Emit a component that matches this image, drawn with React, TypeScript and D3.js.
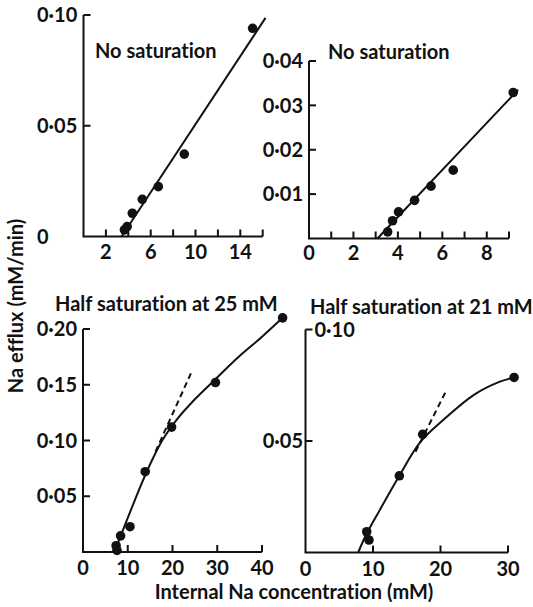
import React from "react";
import * as d3 from "d3";

// ---- Top left: no saturation ----
const aConc = [3.65, 3.9, 4.36, 5.25, 6.68, 9.0, 15.1];
const aEfflux = [0.003, 0.0045, 0.0105, 0.0168, 0.0225, 0.0372, 0.094];
const aFitConc = [3.4, 16.25];
const aFitEfflux = [0, 0.0987];
const aXTicks = [2, 4, 6, 8, 10, 12, 14, 16];
const aXLabels = [2, 6, 10, 14];
const aYTicks = [0.05, 0.1];
const aYLabels = [0, 0.05, 0.1];

// ---- Top right: no saturation ----
const bConc = [3.54, 3.76, 4.03, 4.75, 5.49, 6.49, 9.19];
const bEfflux = [0.0015, 0.004, 0.006, 0.0086, 0.0118, 0.0154, 0.0329];
const bFitConc = [3.08, 9.41];
const bFitEfflux = [0, 0.0335];
const bXTicks = [1, 2, 3, 4, 5, 6, 7, 8, 9];
const bXLabels = [0, 2, 4, 6, 8];
const bYTicks = [0.01, 0.02, 0.03, 0.04];
const bYLabels = [0.01, 0.02, 0.03, 0.04];

// ---- Bottom left: half saturation at 25 mM ----
const cConc = [7.4, 7.6, 8.4, 10.5, 13.9, 19.8, 29.6, 44.6];
const cEfflux = [0.0056, 0.0015, 0.0145, 0.0227, 0.072, 0.112, 0.152, 0.21];
const cCurveConc = [7.0, 10, 13, 15.5, 18, 21, 25, 29.6, 34.5, 40, 44.6];
const cCurveEfflux = [0, 0.0305, 0.0605, 0.083, 0.102, 0.119, 0.137, 0.155, 0.174, 0.193, 0.21];
const cTangentConc = [16.2, 24.2];
const cTangentEfflux = [0.09, 0.161];
const cXTicks = [10, 20, 30, 40];
const cXLabels = [0, 10, 20, 30, 40];
const cYTicks = [0.05, 0.1, 0.15, 0.2];
const cYLabels = [0.05, 0.1, 0.15, 0.2];

// ---- Bottom right: half saturation at 21 mM ----
const dConc = [9.07, 9.4, 13.9, 17.36, 30.9];
const dEfflux = [0.0093, 0.0056, 0.0344, 0.053, 0.0785];
const dCurveConc = [7.8, 9.07, 11, 13.9, 17, 20.4, 24.9, 28.8, 30.9];
const dCurveEfflux = [0, 0.0085, 0.019, 0.0344, 0.0495, 0.0594, 0.0706, 0.0766, 0.0785];
const dTangentConc = [16.3, 20.9];
const dTangentEfflux = [0.0452, 0.0729];
const dXTicks = [10, 20, 30];
const dXLabels = [0, 10, 20, 30];
const dYTicks = [0.05, 0.1];
const dYLabels = [0.05];
const dYTopLabel = 0.1;

const FONT = "Lato, 'Open Sans', sans-serif";
const INK = "#111";
const FS = 20;

const fmt = (v: number) =>
  v === 0 ? "0" : d3.format(".2f")(v).replace(".", "\u00b7");

type PanelProps = {
  xDomain: [number, number];
  xRange: [number, number];
  yDomain: [number, number];
  yRange: [number, number];
  xTicks: number[];
  xLabels: number[];
  yTicks: number[];
  yLabels: number[];
  yLabelAnchor: "start" | "end";
  yLabelX: number;
  xLabelY: number;
  topRightLabel?: number;
  conc: number[];
  efflux: number[];
  fitConc: number[];
  fitEfflux: number[];
  smooth?: boolean;
  tangentConc?: number[];
  tangentEfflux?: number[];
};

function Panel(p: PanelProps) {
  const x = d3.scaleLinear().domain(p.xDomain).range(p.xRange);
  const y = d3.scaleLinear().domain(p.yDomain).range(p.yRange);
  const [x0, x1] = p.xRange;
  const [yb, yt] = p.yRange;

  const line = d3
    .line<number>()
    .x((_, i) => x(p.fitConc[i]))
    .y((_, i) => y(p.fitEfflux[i]))
    .curve(p.smooth ? d3.curveCatmullRom.alpha(0.5) : d3.curveLinear);

  const tangent =
    p.tangentConc && p.tangentEfflux
      ? d3
          .line<number>()
          .x((_, i) => x(p.tangentConc![i]))
          .y((_, i) => y(p.tangentEfflux![i]))(p.tangentConc)
      : null;

  return (
    <g>
      {/* axes */}
      <path
        d={`M${x0},${yt}V${yb}H${x1}`}
        fill="none"
        stroke={INK}
        strokeWidth={2}
      />
      {p.yTicks.map((t) => (
        <line
          key={"yt" + t}
          x1={x0}
          x2={x0 + 7}
          y1={y(t)}
          y2={y(t)}
          stroke={INK}
          strokeWidth={2}
        />
      ))}
      {p.xTicks.map((t) => (
        <line
          key={"xt" + t}
          x1={x(t)}
          x2={x(t)}
          y1={yb}
          y2={yb - 7}
          stroke={INK}
          strokeWidth={2}
        />
      ))}
      {p.yLabels.map((t) => (
        <text
          key={"yl" + t}
          x={p.yLabelX}
          y={y(t)}
          dy="0.36em"
          textAnchor={p.yLabelAnchor}
          fontSize={FS}
          fontWeight={700}
          fill={INK}
        >
          {fmt(t)}
        </text>
      ))}
      {p.topRightLabel !== undefined && (
        <text
          x={x0 + 9}
          y={y(p.topRightLabel)}
          dy="0.36em"
          fontSize={FS}
          fontWeight={700}
          fill={INK}
        >
          {fmt(p.topRightLabel)}
        </text>
      )}
      {p.xLabels.map((t) => (
        <text
          key={"xl" + t}
          x={x(t)}
          y={p.xLabelY}
          textAnchor="middle"
          fontSize={FS}
          fontWeight={700}
          fill={INK}
        >
          {t}
        </text>
      ))}
      {/* fitted line / curve */}
      <path
        d={line(p.fitConc) || ""}
        fill="none"
        stroke={INK}
        strokeWidth={2}
      />
      {tangent && (
        <path
          d={tangent}
          fill="none"
          stroke={INK}
          strokeWidth={2}
          strokeDasharray="6 4"
        />
      )}
      {/* measurements */}
      {p.conc.map((c, i) => (
        <circle key={"pt" + i} cx={x(c)} cy={y(p.efflux[i])} r={4.8} fill={INK} />
      ))}
    </g>
  );
}

export default function App() {
  return (
    <svg
      width={533}
      height={607}
      style={{
        position: "absolute",
        left: 0,
        top: 0,
        background: "#fff",
        fontVariantLigatures: "none",
      }}
      fontFamily={FONT}
    >
      <rect width={533} height={607} fill="#fff" />
      <Panel
        xDomain={[0, 16]}
        xRange={[83.5, 262.7]}
        yDomain={[0, 0.1]}
        yRange={[236.5, 15]}
        xTicks={aXTicks}
        xLabels={aXLabels}
        yTicks={aYTicks}
        yLabels={aYLabels}
        yLabelAnchor="start"
        yLabelX={37}
        xLabelY={259}
        conc={aConc}
        efflux={aEfflux}
        fitConc={aFitConc}
        fitEfflux={aFitEfflux}
      />
      <Panel
        xDomain={[0, 9]}
        xRange={[309, 509]}
        yDomain={[0, 0.04]}
        yRange={[238.5, 61]}
        xTicks={bXTicks}
        xLabels={bXLabels}
        yTicks={bYTicks}
        yLabels={bYLabels}
        yLabelAnchor="end"
        yLabelX={303}
        xLabelY={260}
        conc={bConc}
        efflux={bEfflux}
        fitConc={bFitConc}
        fitEfflux={bFitEfflux}
      />
      <Panel
        xDomain={[0, 40]}
        xRange={[83, 262]}
        yDomain={[0, 0.2]}
        yRange={[552, 329]}
        xTicks={cXTicks}
        xLabels={cXLabels}
        yTicks={cYTicks}
        yLabels={cYLabels}
        yLabelAnchor="end"
        yLabelX={77}
        xLabelY={575}
        conc={cConc}
        efflux={cEfflux}
        fitConc={cCurveConc}
        fitEfflux={cCurveEfflux}
        smooth
        tangentConc={cTangentConc}
        tangentEfflux={cTangentEfflux}
      />
      <Panel
        xDomain={[0, 30]}
        xRange={[305.5, 508]}
        yDomain={[0, 0.1]}
        yRange={[552.5, 329.5]}
        xTicks={dXTicks}
        xLabels={dXLabels}
        yTicks={dYTicks}
        yLabels={dYLabels}
        yLabelAnchor="end"
        yLabelX={303}
        xLabelY={576}
        topRightLabel={dYTopLabel}
        conc={dConc}
        efflux={dEfflux}
        fitConc={dCurveConc}
        fitEfflux={dCurveEfflux}
        smooth
        tangentConc={dTangentConc}
        tangentEfflux={dTangentEfflux}
      />
      {/* panel titles */}
      <g fontSize={FS} fontWeight={700} fill={INK}>
        <text x={95} y={58}>No saturation</text>
        <text x={328} y={59}>No saturation</text>
        <text x={55} y={311}>Half saturation at 25 mM</text>
        <text x={310} y={314}>Half saturation at 21 mM</text>
      </g>
      {/* shared axis titles */}
      <text
        x={294}
        y={599}
        textAnchor="middle"
        fontSize={FS}
        fontWeight={700}
        fill={INK}
      >
        Internal Na concentration (mM)
      </text>
      <text
        transform="translate(23,306) rotate(-90)"
        textAnchor="middle"
        fontSize={FS}
        fontWeight={700}
        fill={INK}
      >
        Na efflux (mM/min)
      </text>
    </svg>
  );
}
